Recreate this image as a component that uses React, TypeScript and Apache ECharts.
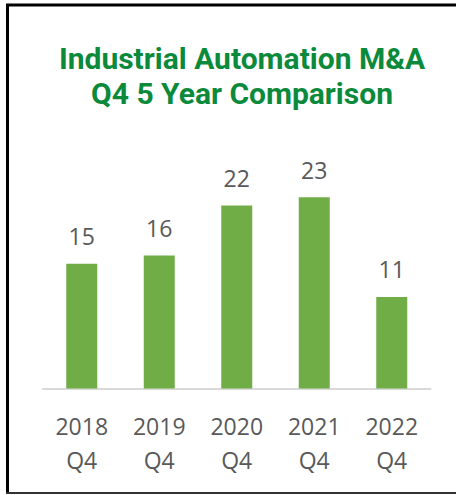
import React, { useEffect, useRef } from "react";
import * as echarts from "echarts";

const years = ["2018", "2019", "2020", "2021", "2022"];
const quarter = "Q4";
const deals = [15, 16, 22, 23, 11];
const titleLines = ["Industrial Automation M&A", "Q4 5 Year Comparison"];

export default function App() {
  const ref = useRef<HTMLDivElement>(null);
  useEffect(() => {
    if (!ref.current) return;
    const chart = echarts.init(ref.current, null, { renderer: "svg" });
    chart.setOption({
      animation: false,
      backgroundColor: "#ffffff",
      grid: { left: 43, right: 25.5, top: 180.5, bottom: 106.5 },
      xAxis: {
        type: "category",
        data: years.map((y) => y + "\n" + quarter),
        axisLine: { lineStyle: { color: "#d9d9d9", width: 2 } },
        axisTick: { show: false },
        axisLabel: {
          color: "#595959",
          fontFamily: "Open Sans",
          fontSize: 23,
          lineHeight: 34,
          margin: 20,
        },
      },
      yAxis: {
        type: "value",
        min: 0,
        max: 25,
        show: false,
        splitLine: { show: false },
      },
      series: [
        {
          type: "bar",
          data: deals,
          barWidth: 31,
          itemStyle: { color: "#70ad47" },
          label: {
            show: true,
            position: "top",
            distance: 16,
            color: "#595959",
            fontFamily: "Open Sans",
            fontSize: 23,
          },
        },
      ],
      graphic: [
        {
          type: "text",
          x: 242,
          y: 75.5,
          style: {
            text: titleLines.join("\n"),
            fill: "#0b8a3c",
            font: "bold 30px Roboto",
            lineHeight: 35,
            align: "center",
            verticalAlign: "middle",
          },
        },
        { type: "line", shape: { x1: 6, y1: 5, x2: 456, y2: 5 }, style: { stroke: "#000", lineWidth: 3 } },
        { type: "line", shape: { x1: 7.5, y1: 4, x2: 7.5, y2: 494 }, style: { stroke: "#000", lineWidth: 3 } },
        { type: "line", shape: { x1: 6, y1: 493, x2: 456, y2: 493 }, style: { stroke: "#333", lineWidth: 2 } },
      ],
    });
    return () => chart.dispose();
  }, []);
  return (
    <div
      ref={ref}
      style={{ position: "absolute", left: 0, top: 0, width: 456, height: 495 }}
    />
  );
}
